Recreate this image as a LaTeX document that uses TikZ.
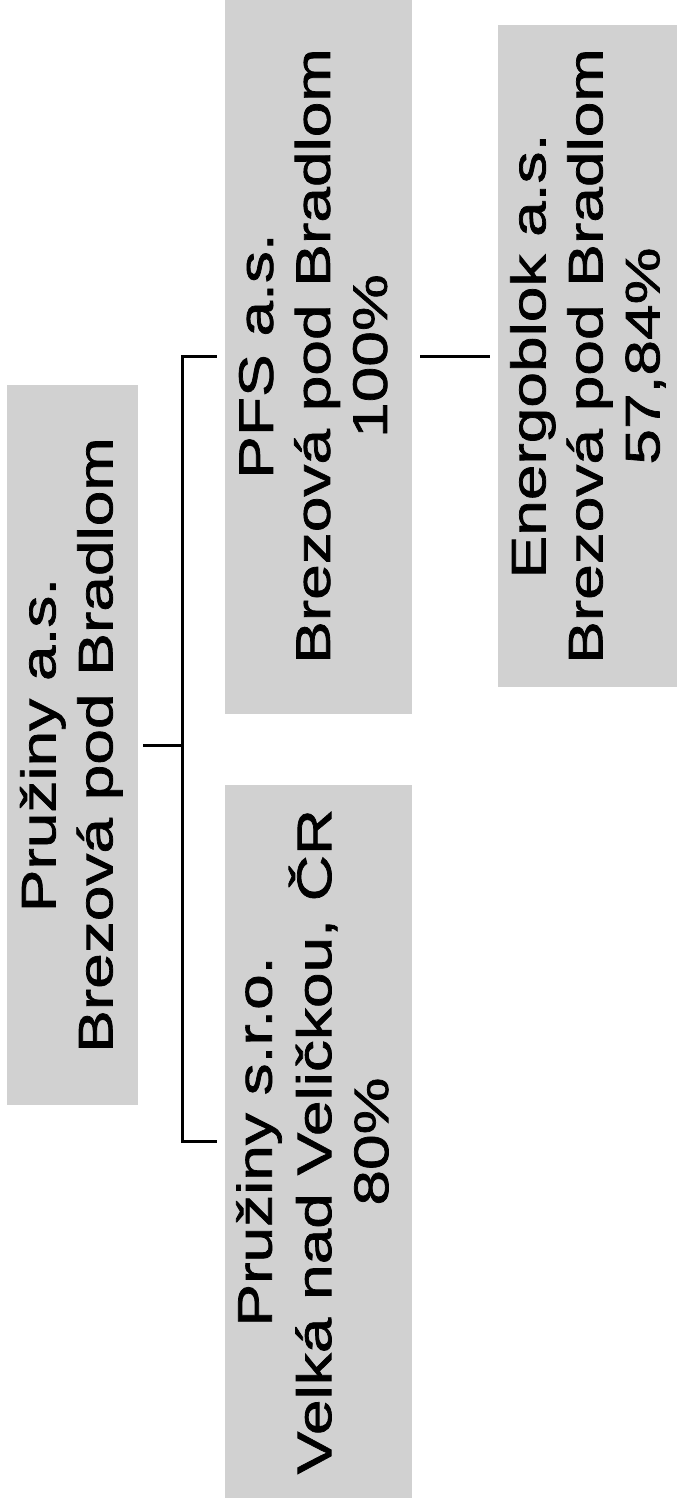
\documentclass[tikz,border=0pt]{standalone}
\usepackage{fontspec}
\newfontfamily\boxfont[FakeStretch=1.32,FakeBold=1.5]{Liberation Sans}
\newcommand{\vtext}[1]{\rotatebox{90}{\boxfont\fontsize{48.5}{57}\selectfont\begin{tabular}{@{}c@{}}#1\end{tabular}}}
\tikzset{
  orgbox/.style={fill=black!18, draw=none, inner sep=0pt},
  conn/.style={draw=black, line width=3pt}
}
\begin{document}
\begin{tikzpicture}[x=1pt,y=1pt]
\useasboundingbox (0,0) rectangle (677,-1505);
\fill[white] (0,0) rectangle (677,-1505);
\node[orgbox, minimum width=131pt, minimum height=720pt] (root) at (72.5,-745) {\vtext{Pružiny a.s.\\Brezová pod Bradlom}};
\node[orgbox, minimum width=187pt, minimum height=715pt] (pfs) at (318.5,-356) {\vtext{PFS a.s.\\Brezová pod Bradlom\\100\%}};
\node[orgbox, minimum width=187pt, minimum height=713pt] (child) at (318.5,-1141.5) {\vtext{Pružiny s.r.o.\\Velká nad Veličkou, ČR\\80\%}};
\node[orgbox, minimum width=186pt, minimum height=662pt] (energo) at (591,-356) {\vtext{Energoblok a.s.\\Brezová pod Bradlom\\57,84\%}};
\coordinate (bus) at (182,0);
\draw[conn] ([xshift=5pt]root.east) -- (bus |- root.east);
\draw[conn] ([xshift=-8pt]pfs.west) -| (bus |- child.west) -- ([xshift=-8pt]child.west);
\draw[conn] ([xshift=8pt]pfs.east) -- ([xshift=-8pt]energo.west |- pfs.east);
\end{tikzpicture}
\end{document}
